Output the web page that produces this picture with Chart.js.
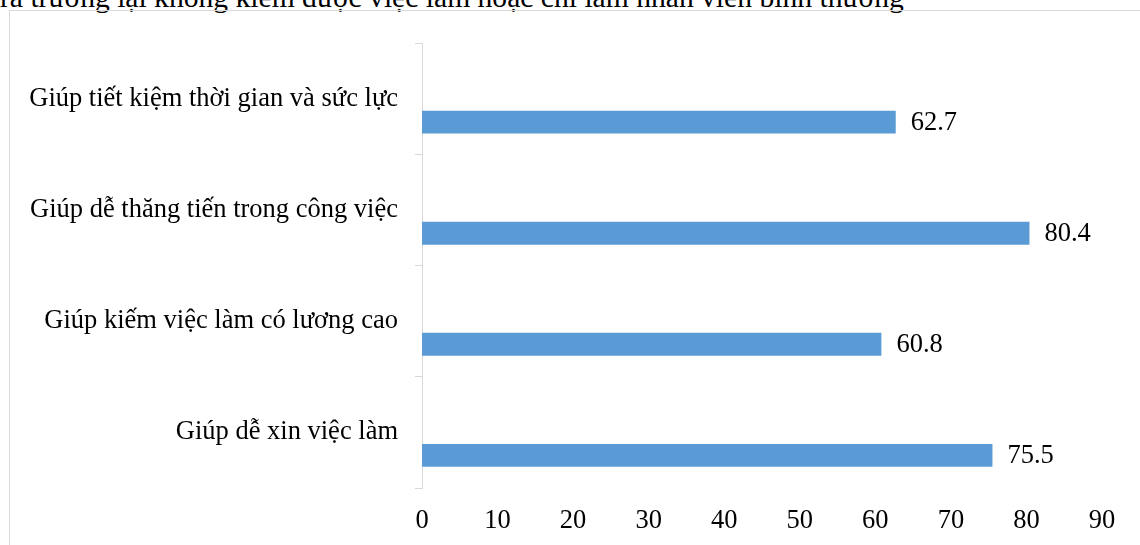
<!DOCTYPE html>
<html>
<head>
<meta charset="utf-8">
<script src="https://cdn.jsdelivr.net/npm/chart.js@4.4.1/dist/chart.umd.min.js"></script>
<style>
  html, body { margin: 0; padding: 0; background: #fff; width: 1140px; height: 545px; overflow: hidden; position: relative; }
  #caption { position: absolute; left: 0; top: -17px; white-space: nowrap; font-family: "Liberation Serif", "Times New Roman", serif; font-size: 29.6px; line-height: 29.6px; color: #000; }
  #frame { position: absolute; left: 9px; top: 10px; width: 1200px; height: 600px; border: 1px solid #d9d9d9; box-sizing: border-box; }
  #wrap { position: absolute; left: 10px; top: 11px; width: 1130px; height: 534px; }
</style>
</head>
<body>
<div id="caption">ra trường lại không kiếm được việc làm hoặc chỉ làm nhân viên bình thường</div>
<div id="frame"></div>
<div id="wrap"><canvas id="c" width="1130" height="534"></canvas></div>
<script>
const categories = [
  "Giúp tiết kiệm thời gian và sức lực",
  "Giúp dễ thăng tiến trong công việc",
  "Giúp kiếm việc làm có lương cao",
  "Giúp dễ xin việc làm"
];
const values = [62.7, 80.4, 60.8, 75.5];
const emptySeries = [null, null, null, null];
const xTicks = [0, 10, 20, 30, 40, 50, 60, 70, 80, 90];

const FONT = '"Liberation Serif", "Times New Roman", serif';
const FSIZE = 26.5;

const valueLabels = {
  id: 'valueLabels',
  afterDatasetsDraw(chart) {
    const ctx = chart.ctx;
    const meta = chart.getDatasetMeta(2);
    ctx.save();
    ctx.font = FSIZE + 'px ' + FONT;
    ctx.fillStyle = '#000';
    ctx.textAlign = 'left';
    ctx.textBaseline = 'middle';
    meta.data.forEach((el, i) => {
      const v = chart.data.datasets[2].data[i];
      if (v == null) return;
      ctx.fillText(v.toFixed(1), el.x + 15, el.y + 1);
    });
    ctx.restore();
  }
};

new Chart(document.getElementById('c'), {
  type: 'bar',
  data: {
    labels: categories,
    datasets: [
      { data: emptySeries, backgroundColor: '#5b9bd5' },
      { data: emptySeries, backgroundColor: '#5b9bd5' },
      { data: values, backgroundColor: '#5b9bd5', borderWidth: 0 }
    ]
  },
  options: {
    indexAxis: 'y',
    responsive: false,
    animation: false,
    devicePixelRatio: 1,
    categoryPercentage: 0.616,
    barPercentage: 1,
    layout: { padding: { left: 0, right: 38, top: 29, bottom: 0 } },
    plugins: { legend: { display: false }, tooltip: { enabled: false } },
    scales: {
      x: {
        min: 0, max: 90,
        afterFit(scale) { scale.height = 57; },
        afterBuildTicks(scale) { scale.ticks = xTicks.map(v => ({ value: v })); },
        grid: { display: false },
        border: { display: false },
        ticks: { color: '#000', font: { family: FONT, size: FSIZE }, padding: 9.5, maxRotation: 0 }
      },
      y: {
        afterFit(scale) { scale.width = 412; },
        offset: true,
        grid: { display: true, drawOnChartArea: false, drawTicks: true, tickLength: 7, color: '#d9d9d9', offset: true },
        border: { display: true, color: '#d9d9d9', width: 1 },
        ticks: { color: '#000', font: { family: FONT, size: FSIZE }, padding: 17 }
      }
    }
  },
  plugins: [valueLabels]
});
</script>
</body>
</html>
